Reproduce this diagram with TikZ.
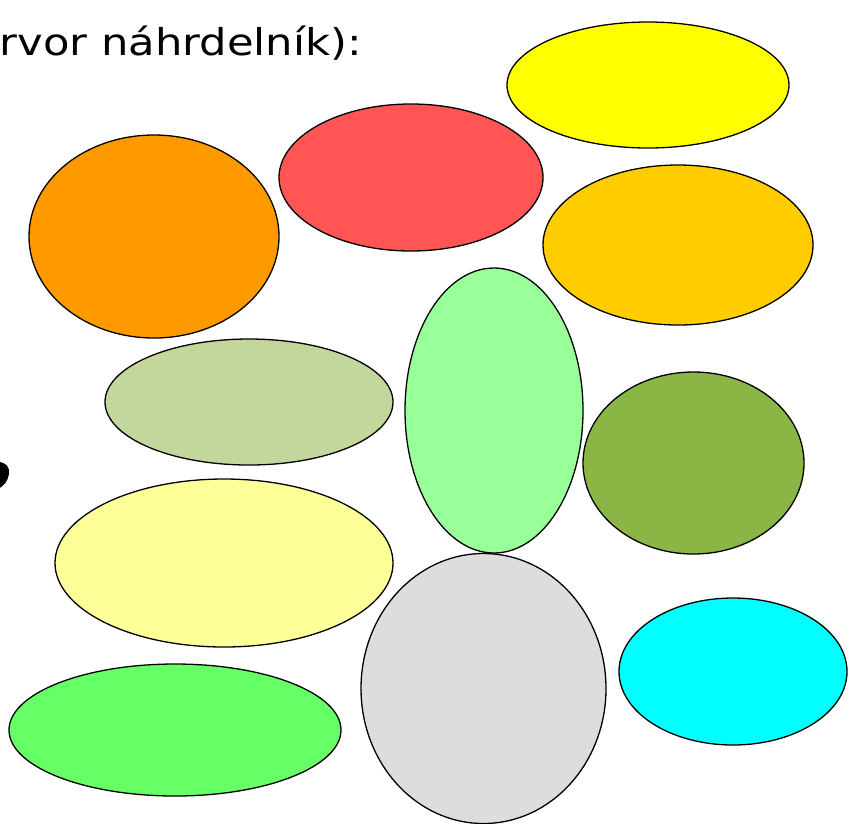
\documentclass[tikz,border=0pt]{standalone}
\usepackage{fontspec}
\setmainfont{DejaVu Sans}
\usetikzlibrary{shapes.geometric}
\definecolor{cyel}{HTML}{FFFF00}
\definecolor{cred}{HTML}{FF5555}
\definecolor{corg}{HTML}{FF9900}
\definecolor{cgold}{HTML}{FFCC00}
\definecolor{csage}{HTML}{C3D69B}
\definecolor{clgreen}{HTML}{99FF99}
\definecolor{colive}{HTML}{8BB545}
\definecolor{clyel}{HTML}{FFFF99}
\definecolor{cgray}{HTML}{DDDDDD}
\definecolor{ccyan}{HTML}{00FFFF}
\definecolor{cgreen}{HTML}{66FF66}
\tikzset{
  bead/.style={ellipse, draw=black, line width=1.3pt, inner sep=0pt, outer sep=0pt},
}
\newcommand{\bd}[6]{\node[bead, fill=#6, minimum width=#4pt, minimum height=#5pt] (#1) at (#2,#3) {};}
\begin{document}
\begin{tikzpicture}[x=1pt,y=-1pt]
\useasboundingbox (0,0) rectangle (858,823);
\fill[white] (0,0) rectangle (858,823);
\node[anchor=base east, inner sep=0pt, font=\fontsize{37}{42}\selectfont] (title) at (362,55) {\scalebox{1.17}[1]{rvor náhrdelník):}};
\bd{yellow}{648}{85}{282}{126}{cyel}
\bd{red}{411}{177.5}{264}{147}{cred}
\bd{orange}{154}{236.5}{250}{203}{corg}
\bd{gold}{678}{245}{270}{160}{cgold}
\bd{sage}{249}{402}{288}{126}{csage}
\bd{lgreen}{494}{410.5}{178}{285}{clgreen}
\bd{olive}{693.5}{463}{221}{182}{colive}
\bd{lyellow}{224}{563}{338}{168}{clyel}
\bd{gray}{483.5}{688.5}{245}{270}{cgray}
\bd{cyan}{733}{671.5}{228}{147}{ccyan}
\bd{green}{175}{730}{332}{132}{cgreen}
\fill[black] (-2,462) .. controls (6,462) and (10,467) .. (9,474) .. controls (8,481) and (4,486) .. (-2,489) -- cycle;
\end{tikzpicture}
\end{document}
